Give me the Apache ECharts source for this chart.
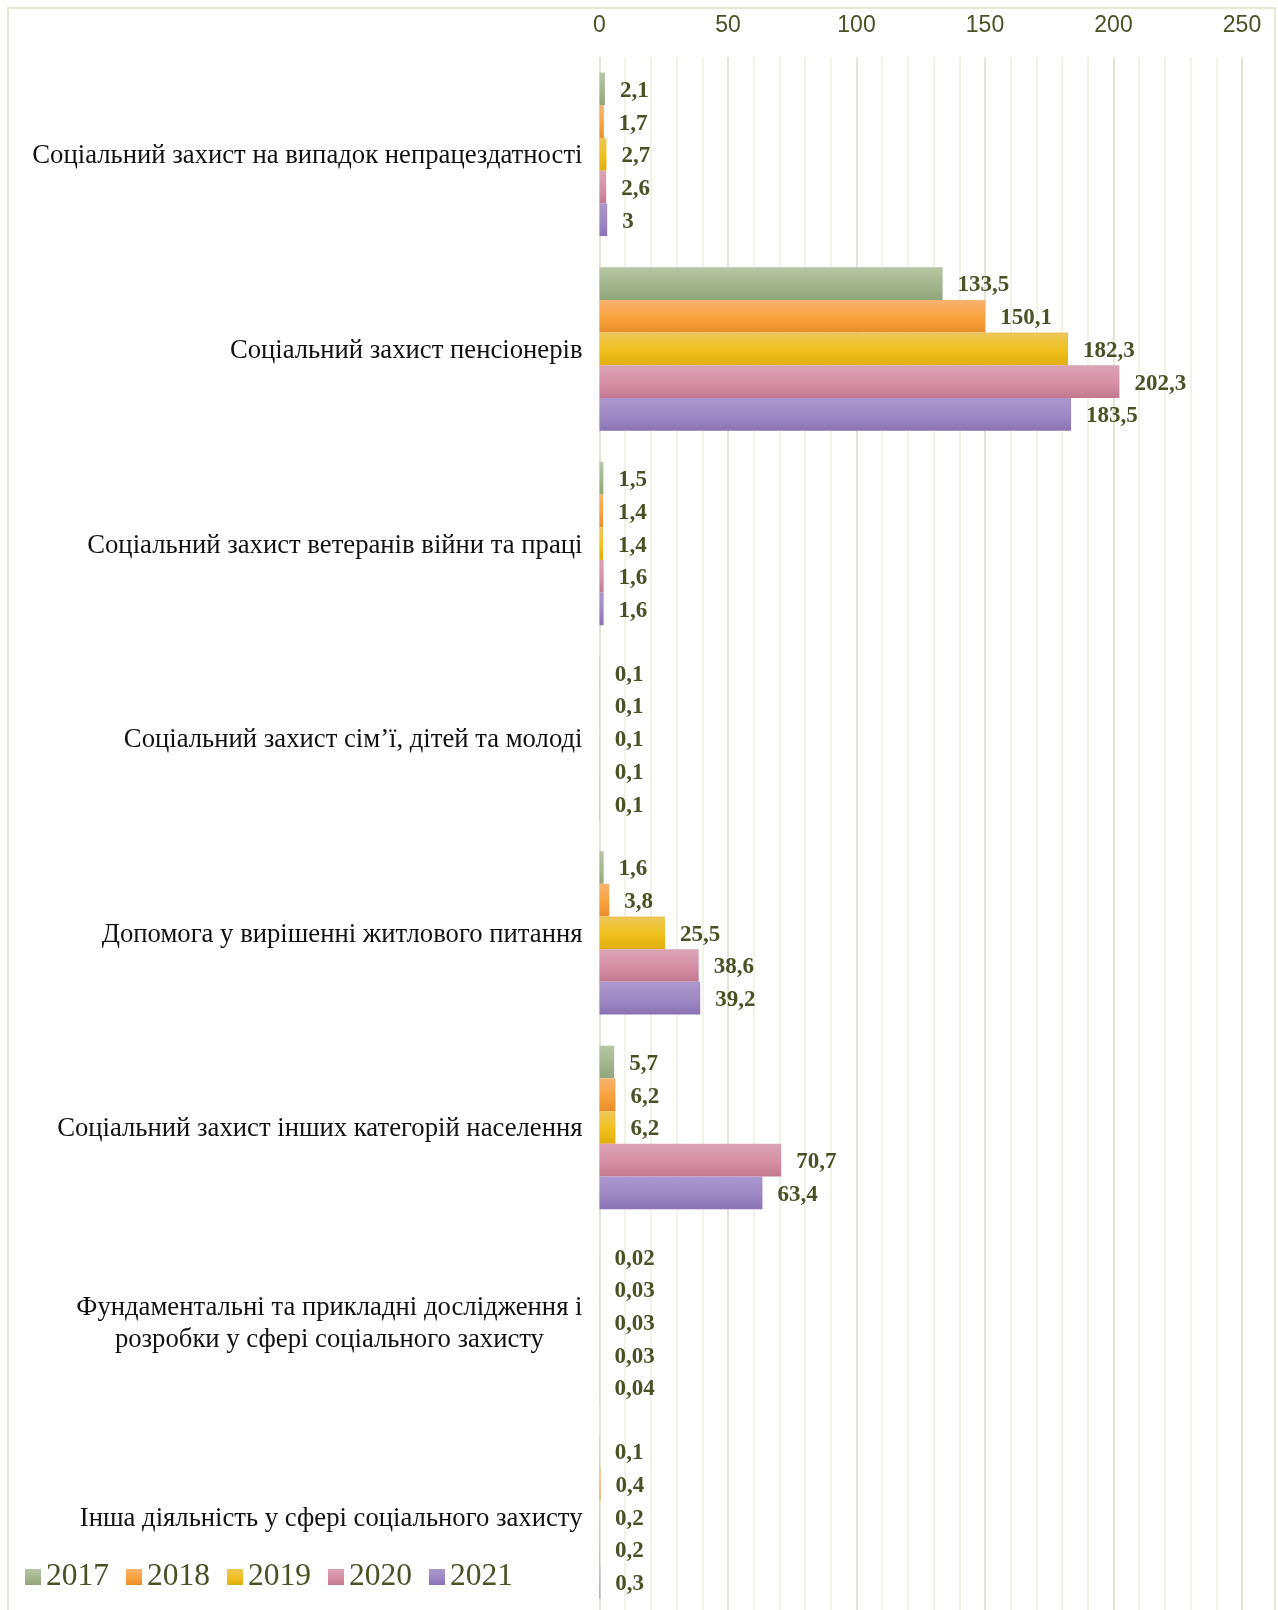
<!DOCTYPE html>
<html>
<head>
<meta charset="utf-8">
<script src="https://cdn.jsdelivr.net/npm/echarts@6/dist/echarts.min.js"></script>
<style>
html,body{margin:0;padding:0;background:#fff;}
#chart{width:1278px;height:1610px;}
</style>
</head>
<body>
<div id="chart"></div>
<script>
const categories = [
  'Соціальний захист на випадок непрацездатності',
  'Соціальний захист пенсіонерів',
  'Соціальний захист ветеранів війни та праці',
  'Соціальний захист сім’ї, дітей та молоді',
  'Допомога у вирішенні житлового питання',
  'Соціальний захист інших категорій населення',
  'Фундаментальні та прикладні дослідження і\nрозробки у сфері соціального захисту',
  'Інша діяльність у сфері соціального захисту'
];
const years = ['2017', '2018', '2019', '2020', '2021'];
const values2017 = [2.1, 133.5, 1.5, 0.1, 1.6, 5.7, 0.02, 0.1];
const values2018 = [1.7, 150.1, 1.4, 0.1, 3.8, 6.2, 0.03, 0.4];
const values2019 = [2.7, 182.3, 1.4, 0.1, 25.5, 6.2, 0.03, 0.2];
const values2020 = [2.6, 202.3, 1.6, 0.1, 38.6, 70.7, 0.03, 0.2];
const values2021 = [3, 183.5, 1.6, 0.1, 39.2, 63.4, 0.04, 0.3];
const xTicks = [0, 50, 100, 150, 200, 250];

const seriesValues = [values2017, values2018, values2019, values2020, values2021];
const gradients = [
  ['#b6c6a4', '#a3b58d', '#90a57a'],
  ['#f8b370', '#f9a23c', '#e98d2c'],
  ['#edc659', '#f0c01e', '#e0ae0e'],
  ['#daa3b5', '#d690a6', '#c3788f'],
  ['#aa98cd', '#9d88c4', '#8b72b3']
];
function grad(c) {
  return new echarts.graphic.LinearGradient(0, 0, 0, 1, [
    {offset: 0, color: c[0]}, {offset: 0.55, color: c[1]}, {offset: 1, color: c[2]}
  ]);
}
const labelColor = '#4a5124';

const chart = echarts.init(document.getElementById('chart'), null, {renderer: 'canvas'});
chart.setOption({
  animation: false,
  backgroundColor: '#fff',
  graphic: [{
    type: 'rect',
    shape: {x: 8, y: 8, width: 1267, height: 1700},
    style: {fill: 'none', stroke: '#e7e9d5', lineWidth: 2},
    silent: true, z: -10
  }],
  legend: {
    left: 20,
    top: 1556,
    itemWidth: 16,
    itemHeight: 16,
    itemGap: 17,
    icon: 'rect',
    textStyle: {fontFamily: 'Liberation Serif', fontSize: 31.5, color: labelColor},
    data: years
  },
  grid: {left: 599.5, width: 642.5, top: 57, height: 1557, containLabel: false, outerBoundsMode: 'none'},
  xAxis: {
    type: 'value',
    position: 'top',
    min: 0, max: 250, interval: 50,
    axisLine: {show: false},
    axisTick: {show: false},
    axisLabel: {
      fontFamily: 'Liberation Sans', fontSize: 23, color: labelColor, margin: 20,
      formatter: function (v) { return xTicks.indexOf(v) >= 0 ? String(v) : ''; }
    },
    splitLine: {show: true, lineStyle: {color: '#e4e6d1', width: 2}},
    minorTick: {show: false, splitNumber: 5},
    minorSplitLine: {show: true, lineStyle: {color: '#f2f3e7', width: 2}}
  },
  yAxis: {
    type: 'category',
    inverse: true,
    data: categories,
    axisLine: {show: false},
    axisTick: {show: false},
    axisLabel: {
      margin: 17,
      formatter: function (v) { return '{c|' + v + '}'; },
      rich: {c: {align: 'center', fontFamily: 'Liberation Serif', fontSize: 26.7, color: '#111', lineHeight: 32, padding: [4, 0, 0, 0]}}
    }
  },
  series: years.map(function (y, i) {
    return {
      name: y,
      type: 'bar',
      data: seriesValues[i],
      barGap: '0%',
      barCategoryGap: '16%',
      itemStyle: {color: grad(gradients[i])},
      label: {
        show: true,
        position: 'right',
        distance: 15,
        offset: [0, 2],
        fontFamily: 'Liberation Serif',
        fontWeight: 'bold',
        fontSize: 23,
        color: labelColor,
        formatter: function (p) { return String(p.value).replace('.', ','); }
      }
    };
  })
});
</script>
</body>
</html>
